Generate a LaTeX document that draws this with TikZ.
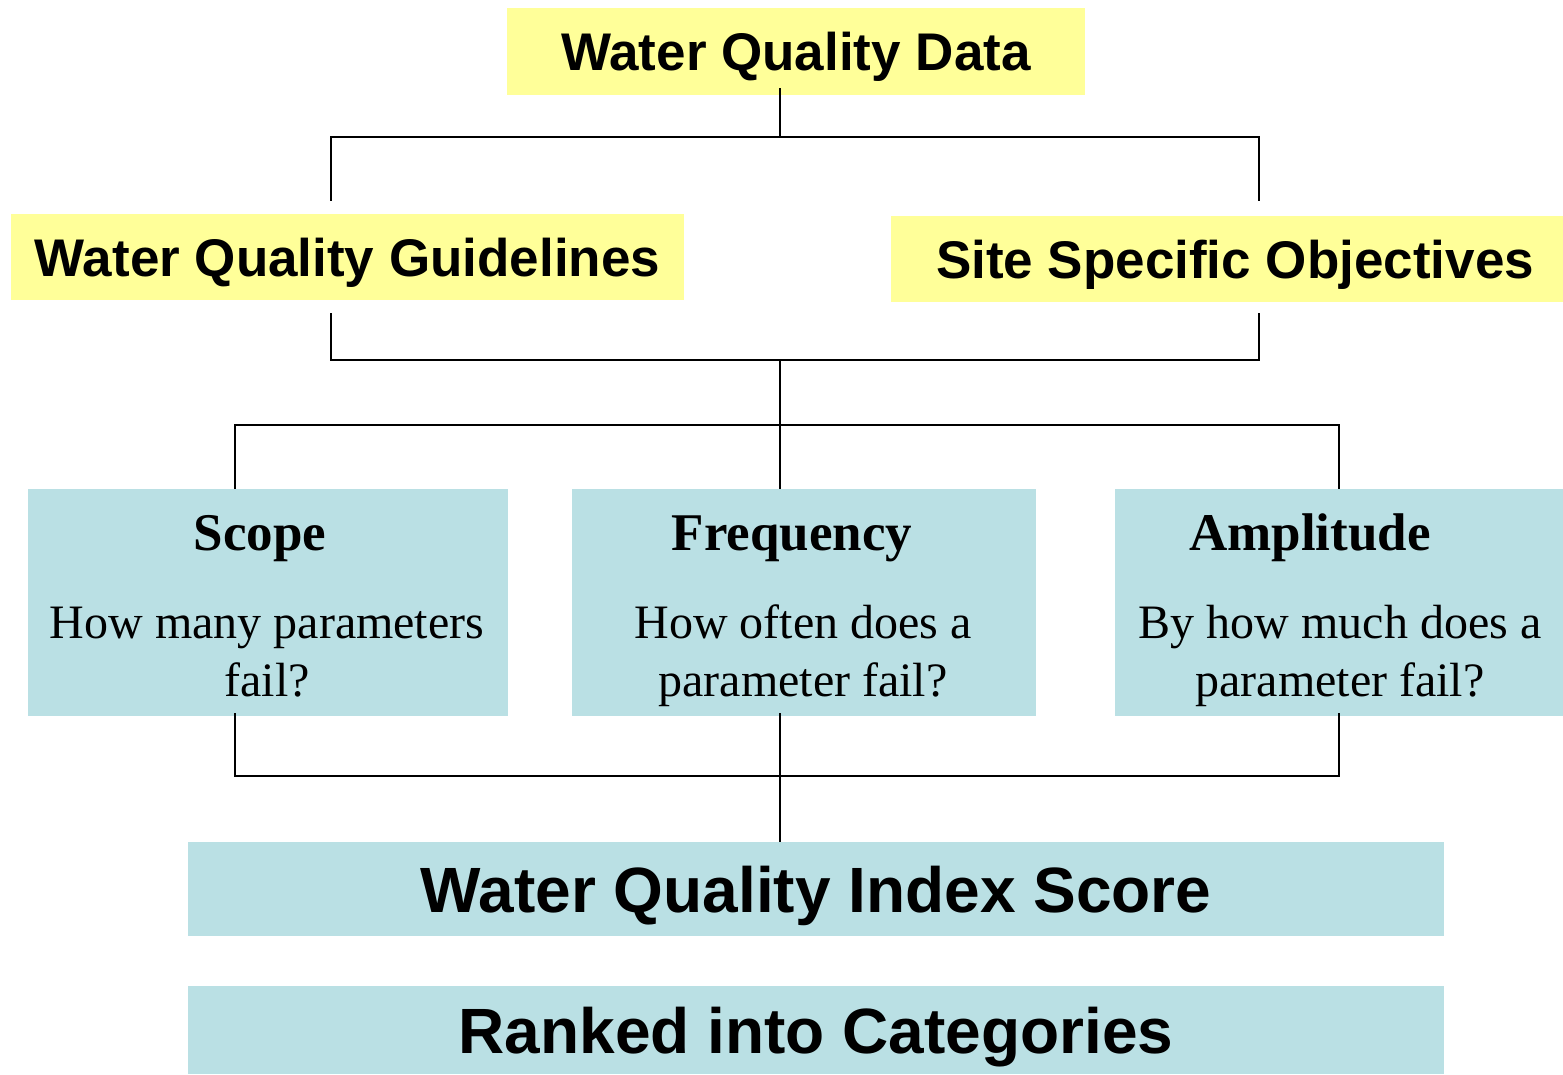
\documentclass[tikz,border=0pt]{standalone}
\usepackage{fontspec}
\setmainfont{Liberation Serif}
\setsansfont{Liberation Sans}
\usepackage{tikz}
\definecolor{paleYellow}{RGB}{255,255,153}
\definecolor{paleTeal}{RGB}{186,224,228}

\begin{document}
\begin{tikzpicture}
[x=1pt,y=-1pt,
  lineDecorate/.style={-,line width=2pt},%
  dataDecorate/.style={shape=rectangle,fill=paleYellow,inner sep=0pt,
    font=\sffamily\bfseries\fontsize{53}{60}\selectfont,
    text height=38pt,text depth=0pt},%
  critDecorate/.style={shape=rectangle,fill=paleTeal,inner sep=0pt,
    minimum height=227pt},%
  scoreDecorate/.style={shape=rectangle,fill=paleTeal,inner sep=0pt,
    minimum width=1256pt,
    font=\sffamily\bfseries\fontsize{64}{70}\selectfont,
    text height=46pt,text depth=0pt},%
  headDecorate/.style={anchor=base,inner sep=0pt,
    font=\bfseries\fontsize{53}{58}\selectfont},%
  bodyDecorate/.style={anchor=base,inner sep=0pt,align=center,
    font=\fontsize{48}{58}\selectfont}]
\useasboundingbox (0,0) rectangle (1563,1074);
%% data and objectives
\foreach \nodename/\x/\y/\w/\h/\txt in {
  wqd/796/51.5/578/87/Water Quality Data,
  wqg/347.5/257/673/86/Water Quality Guidelines,
  sso/1227/259/672/86/{\hspace*{16pt}Site Specific Objectives}}
{
  \node (\nodename) at (\x,\y) [dataDecorate,minimum width=\w pt,
    minimum height=\h pt] {\txt};
}
%% the three factors
\foreach \nodename/\x/\w/\hx/\bx/\head/\body in {
  scope/268/480/260/267/Scope/{How many parameters\\fail?},
  freq/804/464/792/803/Frequency/{How often does a\\parameter fail?},
  ampl/1339/448/1310/1340/Amplitude/{By how much does a\\parameter fail?}}
{
  \node (\nodename) at (\x,602.5) [critDecorate,minimum width=\w pt] {};
  \node (\nodename-head) at (\hx,550) [headDecorate] {\head};
  \node (\nodename-body) at (\bx,696) [bodyDecorate] {\body};
}
%% score and ranking
\node (wqi) at (816,889) [scoreDecorate,minimum height=94pt] {Water Quality Index Score};
\node (rank) at (816,1030) [scoreDecorate,minimum height=88pt] {Ranked into Categories};
%% edges or lines
\coordinate (hub1) at (780,137);
\coordinate (hub2) at (780,360);
\coordinate (hub3) at (780,425);
\coordinate (hub4) at (780,776);
\draw[lineDecorate] ([yshift=7pt]wqd.south -| hub1) -- (hub1);
\draw[lineDecorate] ([xshift=-16.5pt,yshift=13pt]wqg.north) |- (hub1)
  -| ([xshift=32pt,yshift=15pt]sso.north);
\draw[lineDecorate] ([xshift=-16.5pt,yshift=-13pt]wqg.south) |- (hub2)
  -| ([xshift=32pt,yshift=-11pt]sso.south);
\draw[lineDecorate] (hub2) -- (hub3);
\draw[lineDecorate] ([xshift=-33pt]scope.north) |- (hub3) -| (ampl.north);
\draw[lineDecorate] (hub3) -- (hub3 |- freq.north);
\draw[lineDecorate] ([xshift=-33pt,yshift=3pt]scope.south) |- (hub4)
  -| ([yshift=3pt]ampl.south);
\draw[lineDecorate] ([yshift=3pt]freq.south -| hub4) -- (wqi.north -| hub4);
\end{tikzpicture}
\end{document}
